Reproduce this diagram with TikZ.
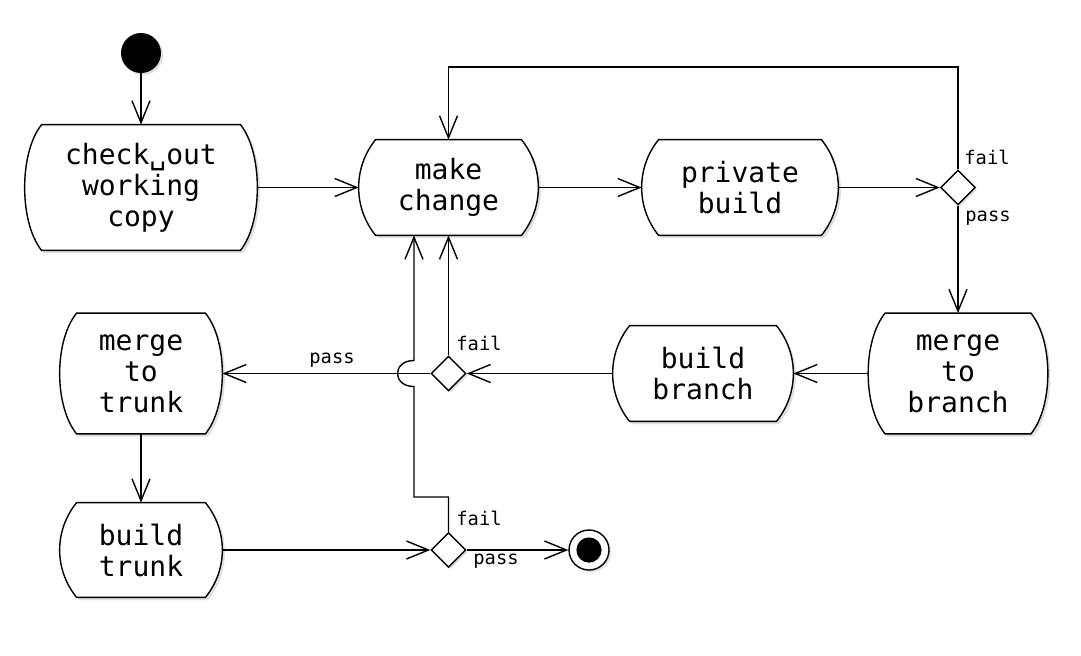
\documentclass[tikz,border=0pt]{standalone}
\usepackage{fontspec}
\setmonofont{DejaVu Sans Mono}
\usetikzlibrary{arrows.meta,shapes.geometric,shadows}
\pgfdeclarelayer{background}
\pgfsetlayers{background,main}

\tikzset{
  flow/.style={draw=black,line width=0.7pt,-{Straight Barb[length=11pt,width=9pt]}},
  activity/.style={inner sep=0pt,align=center,font=\ttfamily\fontsize{14}{15.5}\selectfont},
  actionline/.style={draw=black,line width=0.7pt,fill=white,
    drop shadow={shadow xshift=1.3pt,shadow yshift=-1.3pt,opacity=0.25}},
  decision/.style={diamond,draw=black,line width=0.7pt,fill=white,inner sep=0pt,
    minimum width=17.5pt,minimum height=17.5pt,
    drop shadow={shadow xshift=1pt,shadow yshift=-1pt,opacity=0.25}},
  guard/.style={inner sep=0pt,font=\ttfamily\fontsize{9.4}{11}\selectfont},
}

% outline of an action node: flat top and bottom, bulging sides
\newcommand{\actionoutline}[1]{%
  \path[actionline] ([xshift=8.5pt]#1.north west) -- ([xshift=-8.5pt]#1.north east)
    .. controls ([xshift=2.8pt,yshift=-14pt]#1.north east) and ([xshift=2.8pt,yshift=14pt]#1.south east) .. ([xshift=-8.5pt]#1.south east)
    -- ([xshift=8.5pt]#1.south west)
    .. controls ([xshift=-2.8pt,yshift=14pt]#1.south west) and ([xshift=-2.8pt,yshift=-14pt]#1.north west) .. ([xshift=8.5pt]#1.north west) -- cycle;}

\begin{document}
\begin{tikzpicture}[x=0.5pt,y=-0.5pt]
\useasboundingbox (0,0) rectangle (1081,655);

% start and end:
\node[circle,fill=black,minimum size=20pt,inner sep=0pt,
  drop shadow={shadow xshift=1pt,shadow yshift=-1pt,opacity=0.25}] (start) at (141,53) {};
\node[circle,draw=black,line width=0.7pt,fill=white,minimum size=20pt,inner sep=0pt,
  drop shadow={shadow xshift=1pt,shadow yshift=-1pt,opacity=0.25},
  path picture={\fill[black] (path picture bounding box.center) circle (6.3pt);}] (end) at (589,550) {};

% actions:
\node[activity,minimum width=116pt,minimum height=62.5pt] (checkout) at (141,187.5) {check\textvisiblespace out\\working\\copy};
\node[activity,minimum width=89.5pt,minimum height=47.5pt] (make) at (448.5,187.5) {make\\change};
\node[activity,minimum width=98pt,minimum height=47.5pt] (private) at (740,187.5) {private\\build};
\node[activity,minimum width=89.5pt,minimum height=60pt] (mbranch) at (958,373.5) {merge\\to\\branch};
\node[activity,minimum width=90pt,minimum height=47.5pt] (bbranch) at (703,373.5) {build\\branch};
\node[activity,minimum width=81pt,minimum height=60pt] (mtrunk) at (141,373.5) {merge\\to\\trunk};
\node[activity,minimum width=81pt,minimum height=47pt] (btrunk) at (141,550) {build\\trunk};

\begin{pgfonlayer}{background}
\foreach \act in {checkout,make,private,mbranch,bbranch,mtrunk,btrunk}
  \actionoutline{\act};
\end{pgfonlayer}

% decisions:
\node[decision] (dec1) at (958,187.5) {};
\node[decision] (dec2) at (448.5,373.5) {};
\node[decision] (dec3) at (448.5,550) {};

\node[guard] (fail1) at (987,157) {fail};
\node[guard] (pass1) at (988,218) {pass};
\node[guard] (fail2) at (479,343) {fail};
\node[guard] (pass2) at (332,360) {pass};
\node[guard] (fail3) at (479,518) {fail};
\node[guard] (pass3) at (496,561) {pass};

\coordinate (looptop) at (958,67);
\coordinate (failcorner) at (414,497);
\coordinate (hop) at (414,373.5);

% flows:
\draw[flow] (start) -- (checkout);
\draw[flow] (checkout) -- (make);
\draw[flow] (make) -- (private);
\draw[flow] (private) -- (dec1);
\draw[flow] (dec1.north) -- (looptop) -| (make.north);
\draw[flow] (dec1.south) -- (mbranch.north);
\draw[flow] (mbranch) -- (bbranch);
\draw[flow] (bbranch) -- (dec2);
\draw[flow] (dec2.north) -- (dec2.north |- make.south);
\draw[flow] (dec2.west) -- (mtrunk.east);
\draw[flow] (mtrunk) -- (btrunk);
\draw[flow] (btrunk) -- (dec3);
\draw[flow] (dec3) -- (end);
\draw[flow] (dec3.north) |- (failcorner) -- ([yshift=-6.5pt]hop)
  .. controls ([xshift=-11pt,yshift=-6.5pt]hop) and ([xshift=-11pt,yshift=6.5pt]hop) .. ([yshift=6.5pt]hop)
  -- (hop |- make.south);

\end{tikzpicture}
\end{document}
